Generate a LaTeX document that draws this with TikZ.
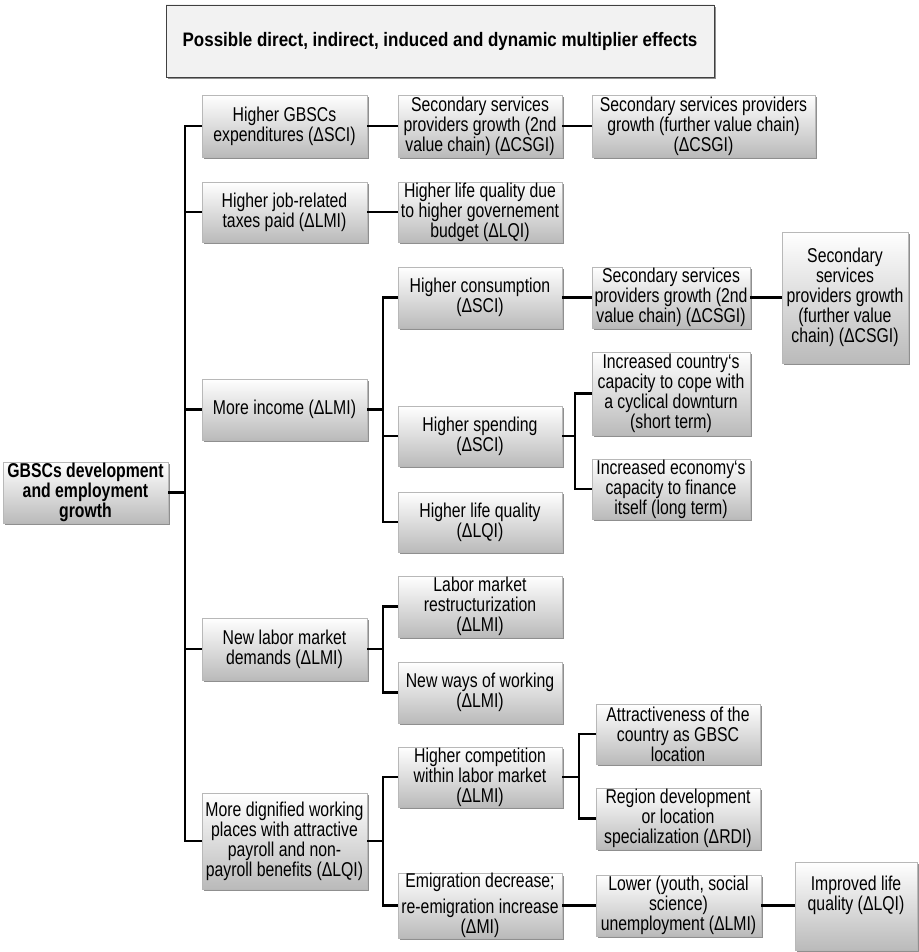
\documentclass[tikz,border=0pt]{standalone}
\usepackage{fontspec}
\setmainfont{Liberation Sans}[FakeStretch=0.79]
\newfontfamily\headfont{Liberation Sans}[FakeStretch=0.87]
\usetikzlibrary{shadows}

% \gbox[options]{name}{left}{top}{right}{bottom}{text}
\newcommand\gbox[7][]{%
  \pgfmathsetmacro\gcx{(#3+#5)/2}%
  \pgfmathsetmacro\gcy{(#4+#6)/2}%
  \pgfmathsetmacro\gw{#5-#3}%
  \pgfmathsetmacro\gh{#6-#4}%
  \node[box, minimum width=\gw pt, minimum height=\gh pt, #1]
    (#2) at (\gcx,\gcy) {#7};}

\begin{document}
\begin{tikzpicture}[x=1pt, y=-1pt,
  box/.style={draw=black!28, line width=.6pt, top color=white, bottom color=black!27,
    drop shadow={shadow xshift=1.8pt, shadow yshift=-2.4pt, fill=black!80, opacity=.55},
    align=center, inner xsep=0pt, inner ysep=0pt, font=\fontsize{20}{20}\selectfont},
  headbox/.style={draw=black!75, line width=.8pt, top color=black!5, bottom color=black!5,
    font=\headfont\bfseries\fontsize{19.5}{20}\selectfont},
  link/.style={line width=2.4pt, black}]

\useasboundingbox (0,0) rectangle (918,952);

% heading
\gbox[headbox]{title}{166}{5}{714}{77}{Possible direct, indirect, induced and dynamic multiplier effects}

% root
\gbox[font=\bfseries\fontsize{20}{20}\selectfont]{root}{3}{462}{168}{523}{GBSCs development\\and employment\\growth}

% first level
\gbox{hge}{202}{95}{367}{157}{Higher GBSCs\\expenditures (ΔSCI)}
\gbox{hjt}{202}{182}{367}{242}{Higher job-related\\taxes paid (ΔLMI)}
\gbox{mi}{202}{379}{367}{440}{More income (ΔLMI)}
\gbox{nlm}{202}{618}{367}{680}{New labor market\\demands (ΔLMI)}
\gbox{mdw}{202}{793}{367}{889}{More dignified working\\places with attractive\\payroll and non-\\payroll benefits (ΔLQI)}

% second level
\gbox{ssa}{398}{95}{562}{157}{Secondary services\\providers growth (2nd\\value chain) (ΔCSGI)}
\gbox{hlb}{398}{182}{562}{242}{Higher life quality due\\to higher governement\\budget (ΔLQI)}
\gbox{hc}{398}{267}{562}{328}{Higher consumption\\(ΔSCI)}
\gbox{hs}{398}{406}{562}{466}{Higher spending\\(ΔSCI)}
\gbox{hlq}{398}{492}{562}{552}{Higher life quality\\(ΔLQI)}
\gbox{lmr}{398}{576}{562}{637}{Labor market\\restructurization\\(ΔLMI)}
\gbox{nww}{398}{662}{562}{723}{New ways of working\\(ΔLMI)}
\gbox{hcl}{398}{747}{562}{807}{Higher competition\\within labor market\\(ΔLMI)}
\gbox{emi}{398}{875}{562}{936}{Emigration decrease;\\[6pt]re-emigration increase\\(ΔMI)}

% third level
\gbox{ssf}{592}{95}{815}{157}{Secondary services providers\\growth (further value chain)\\(ΔCSGI)}
\gbox{ssb}{592}{267}{750}{328}{Secondary services\\providers growth (2nd\\value chain) (ΔCSGI)}
\gbox{icc}{592}{352}{750}{435}{Increased country‘s\\capacity to cope with\\a cyclical downturn\\(short term)}
\gbox{iec}{592}{459}{750}{519}{Increased economy‘s\\capacity to finance\\itself (long term)}
\gbox{att}{596}{704}{760}{764}{Attractiveness of the\\country as GBSC\\location}
\gbox{reg}{596}{788}{760}{849}{Region development\\or location\\specialization (ΔRDI)}
\gbox{low}{596}{875}{761}{936}{Lower (youth, social\\science)\\unemployment (ΔLMI)}

% fourth level
\gbox{ssc}{782}{232}{908}{363}{Secondary\\services\\providers growth\\(further value\\chain) (ΔCSGI)}
\gbox{ilq}{795}{862}{917}{950}{Improved life\\quality (ΔLQI)\\\strut}

% trunk and branch lines
\coordinate (t1) at (185,0);
\coordinate (t2) at (383,0);
\coordinate (t3) at (575,0);
\coordinate (t4) at (579,0);

\draw[link] (root.east) -- (root.east -| t1);
\draw[link] (hge.west) -- (hge.west -| t1) -- (mdw.west -| t1) -- (mdw.west);
\draw[link] (hjt.west) -- (hjt.west -| t1);
\draw[link] (mi.west) -- (mi.west -| t1);
\draw[link] (nlm.west) -- (nlm.west -| t1);

\draw[link] (hge.east) -- (ssa.west);
\draw[link] (ssa.east) -- (ssf.west);
\draw[link] (hjt.east) -- (hlb.west);

\draw[link] (mi.east) -- (mi.east -| t2);
\draw[link] (hc.west) -- (hc.west -| t2) -- (hlq.west -| t2) -- (hlq.west);
\draw[link] (hs.west) -- (hs.west -| t2);
\draw[link] (hc.east) -- (ssb.west);
\draw[link] (ssb.east) -- (ssc.west |- ssb.east);

\draw[link] (hs.east) -- (hs.east -| t3);
\draw[link] (icc.west) -- (icc.west -| t3) -- (iec.west -| t3) -- (iec.west);

\draw[link] (nlm.east) -- (nlm.east -| t2);
\draw[link] (lmr.west) -- (lmr.west -| t2) -- (nww.west -| t2) -- (nww.west);

\draw[link] (mdw.east) -- (mdw.east -| t2);
\draw[link] (hcl.west) -- (hcl.west -| t2) -- (emi.west -| t2) -- (emi.west);

\draw[link] (hcl.east) -- (hcl.east -| t4);
\draw[link] (att.west) -- (att.west -| t4) -- (reg.west -| t4) -- (reg.west);

\draw[link] (emi.east) -- (low.west);
\draw[link] (low.east) -- (ilq.west |- low.east);
\end{tikzpicture}
\end{document}
